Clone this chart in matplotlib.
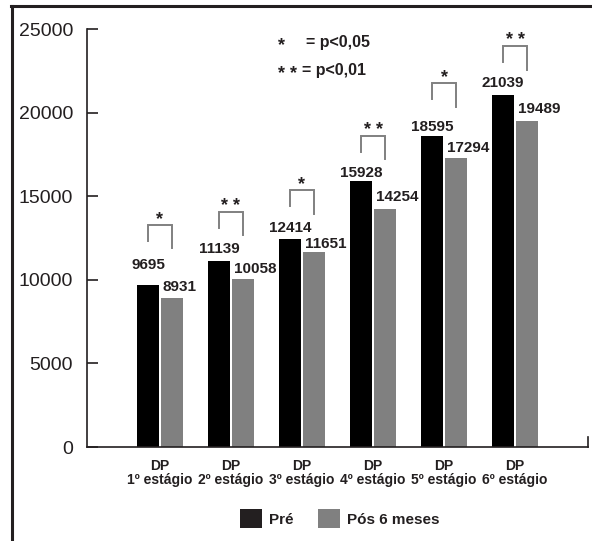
import matplotlib
matplotlib.use("Agg")
import matplotlib.pyplot as plt
from matplotlib.patches import Patch
from matplotlib.lines import Line2D

plt.rcParams['font.family'] = ['Liberation Sans', 'DejaVu Sans']

# ---- data ----
categories = ["DP\n1º estágio", "DP\n2º estágio", "DP\n3º estágio",
              "DP\n4º estágio", "DP\n5º estágio", "DP\n6º estágio"]
pre = [9695, 11139, 12414, 15928, 18595, 21039]
pos = [8931, 10058, 11651, 14254, 17294, 19489]
signif = ["*", "* *", "*", "* *", "*", "* *"]
series_names = ["Pré", "Pós 6 meses"]
yticks = [0, 5000, 10000, 15000, 20000, 25000]

# ---- style ----
DARK = "#231f20"
GRAY = "#808080"
pre_lab_off = [20, 12, 11, 8, 9, 12]      # px above bar top (label centre)
pos_lab_off = [10.5, 10, 8, 12, 10, 12]
brk_off = [60, 49, 49, 45, 53, 49]        # px above black bar top

W, H = 592, 541
fig = plt.figure(figsize=(W / 100, H / 100), dpi=100)
ax = fig.add_axes([87 / W, 1 - 447 / H, (588 - 87) / W, (447 - 29) / H])

x = list(range(len(categories)))
bw = 0.31
off = 0.169
xb = [i - off for i in x]
xg = [i + off for i in x]
ax.bar(xb, pre, width=bw, color="black", zorder=2)
ax.bar(xg, pos, width=bw, color=GRAY, zorder=2)

ax.set_xlim(-1.028, 6.028)
ax.set_ylim(0, 25000)

ax_h_px = (447 - 29)
def dpx(p):
    return p * 25000 / ax_h_px

STAR = dict(fontsize=13, fontweight="bold", color=DARK)

for i in x:
    ax.text(xb[i], pre[i] + dpx(pre_lab_off[i]), str(pre[i]), ha="center", va="center",
            fontsize=11, fontweight="bold", color=DARK)
    ax.text(xg[i] - bw / 2 + 2 / 71, pos[i] + dpx(pos_lab_off[i]), str(pos[i]), ha="left",
            va="center", fontsize=11, fontweight="bold", color=DARK)
    top = pre[i] + dpx(brk_off[i])
    ax.plot([xb[i], xb[i], xg[i], xg[i]],
            [top - dpx(16), top, top, top - dpx(23.5)],
            color=GRAY, lw=1.4, solid_joinstyle="miter", clip_on=False)
    ax.text(i, top + dpx(1), signif[i], ha="center", va="baseline", **STAR)

# spines / ticks
for s in ["top", "right"]:
    ax.spines[s].set_visible(False)
ax.spines["left"].set_color(DARK)
ax.spines["bottom"].set_color(DARK)
ax.spines["left"].set_linewidth(1.2)
ax.spines["bottom"].set_linewidth(1.2)
ax.plot([1, 1], [0, 0.024], transform=ax.transAxes, color=DARK, lw=1.2, clip_on=False)

ax.set_yticks(yticks)
ax.set_yticklabels([str(v) for v in yticks])
ax.tick_params(axis="y", direction="in", length=8, width=1.2, color=DARK,
               labelsize=14, labelcolor=DARK, pad=10)
ax.set_xticks(x)
ax.set_xticklabels(categories, fontsize=10, fontweight="bold", color=DARK,
                   linespacing=0.95)
ax.tick_params(axis="x", length=0, pad=9)

# significance key
fig.text(281 / W, 1 - 50 / H, "*", ha="center", va="baseline", **STAR)
fig.text(306 / W, 1 - 43 / H, "= p<0,05", ha="left", va="center", fontsize=11.5,
         fontweight="bold", color=DARK)
fig.text(281 / W, 1 - 78 / H, "*", ha="center", va="baseline", **STAR)
fig.text(294 / W, 1 - 78 / H, "*", ha="center", va="baseline", **STAR)
fig.text(302 / W, 1 - 71 / H, "= p<0,01", ha="left", va="center", fontsize=11.5,
         fontweight="bold", color=DARK)

# legend
handles = [Patch(facecolor=DARK, edgecolor="none"), Patch(facecolor=GRAY, edgecolor="none")]
leg = fig.legend(handles, series_names, loc="center", bbox_to_anchor=(340 / W, 1 - 518.5 / H),
                 ncol=2, frameon=False, fontsize=11, handlelength=1.44, handleheight=1.5,
                 handletextpad=0.46, columnspacing=1.63, borderpad=0, borderaxespad=0)
for t in leg.get_texts():
    t.set_fontweight("bold")
    t.set_color(DARK)

# outer frame (top and left lines)
fig.add_artist(Line2D([12 / W, 12 / W], [0, 1 - 6 / H], color=DARK, lw=2.2,
                      transform=fig.transFigure))
fig.add_artist(Line2D([11 / W, 1], [1 - 6 / H, 1 - 6 / H], color=DARK, lw=2.2,
                      transform=fig.transFigure))

fig.savefig("out.png", dpi=100)
